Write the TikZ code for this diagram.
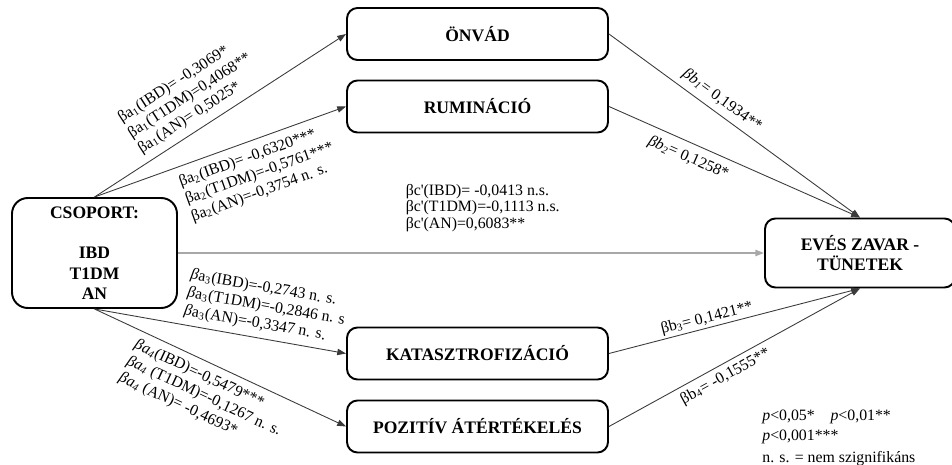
\documentclass[tikz,border=0pt]{standalone}
\usepackage{fontspec}
\setmainfont{Liberation Serif}
\usetikzlibrary{arrows.meta}
\definecolor{pathInk}{HTML}{3A3A3A}
\definecolor{directGray}{HTML}{A8A8A8}

\begin{document}
\begin{tikzpicture}[>={Triangle[length=5pt,width=3.6pt]},
          construct/.style={draw, line width=1.1pt, rounded corners=6pt, minimum width=5.22cm, minimum height=1.04cm,
            align=center, font=\fontsize{10}{11.6}\selectfont\bfseries},
          coef/.style={sloped, align=left, inner sep=0pt, text=black, font=\fontsize{9}{10.4}\selectfont},
          link/.style={->, line width=0.5pt, pathInk}]
        \useasboundingbox (0,0) rectangle (19.04,-9.30);
        \node[construct, minimum width=3.3cm, minimum height=2.2cm, rounded corners=9pt] (cs) at (1.89,-5.06) {CSOPORT:\\[11.6pt]IBD\\T1DM\\AN};
        \node[construct] (onvad) at (9.55,-0.68) {ÖNVÁD};
        \node[construct] (rum) at (9.55,-2.13) {RUMINÁCIÓ};
        \node[construct] (kat) at (9.55,-7.07) {KATASZTROFIZÁCIÓ};
        \node[construct] (poz) at (9.55,-8.53) {POZITÍV ÁTÉRTÉKELÉS};
        \node[construct, minimum width=3.8cm, minimum height=1.38cm] (ev) at (17.2,-5.06) {EVÉS ZAVAR -\\TÜNETEK};
        % a paths
        \draw[link] (cs.north) -- node[coef, pos=0.45, yshift=0.66cm] {βa\textsubscript{1}(IBD)= -0,3069*\\βa\textsubscript{1}(T1DM)=0,4068**\\βa\textsubscript{1}(AN)= 0,5025*} (onvad.west);
        \draw[link] (cs.north) -- node[coef, pos=0.61, yshift=-0.68cm] {βa\textsubscript{2}(IBD)= -0,6320***\\βa\textsubscript{2}(T1DM)=-0,5761***\\βa\textsubscript{2}(AN)=-0,3754 n. s.} (rum.west);
        \draw[link] (cs.south) -- node[coef, pos=0.66, yshift=0.64cm] {\textit{β}a\textsubscript{3}(IBD)=-0,2743 n. s.\\\textit{β}a\textsubscript{3}(T1DM)=-0,2846 n. s\\\textit{β}a\textsubscript{3}(AN)=-0,3347 n. s.} (kat.west);
        \draw[link] (cs.south) -- node[coef, pos=0.49, yshift=-0.66cm] {\textit{βa\textsubscript{4}}(IBD)=-0,5479***\\\textit{βa\textsubscript{4}} (T1DM)=-0,1267 n. s.\\\textit{βa\textsubscript{4}} (AN)= -0,4693*} (poz.west);
        % b paths
        \draw[link] (onvad.east) -- node[coef, pos=0.42, yshift=0.26cm] {\textit{βb\textsubscript{1}}= 0,1934**} (ev.north);
        \draw[link] (rum.east) -- node[coef, pos=0.34, yshift=-0.30cm] {\textit{βb\textsubscript{2}}= 0,1258*} (ev.north);
        \draw[link] (kat.east) -- node[coef, pos=0.40, yshift=0.19cm] {βb\textsubscript{3}= 0,1421**} (ev.south);
        \draw[link] (poz.east) -- node[coef, pos=0.44, yshift=-0.25cm] {βb\textsubscript{4}= -0,1555**} (ev.south);
        % direct path
        \draw[link, directGray, line width=0.9pt] (cs.east) -- node[pos=0.52, yshift=0.9cm, align=left, inner sep=0pt, text=black, font=\fontsize{9}{7.6}\selectfont] {βc\textquotesingle(IBD)= -0,0413 n.s.\\βc\textquotesingle(T1DM)=-0,1113 n.s.\\βc\textquotesingle(AN)=0,6083**} (ev.west);
        \node[anchor=base west, align=left, inner sep=0pt, font=\fontsize{9}{11.3}\selectfont] (sig) at (15.24,-9.26) {\textit{p}<0,05*\quad \textit{p}<0,01**\\\textit{p}<0,001***\\[1.7pt]n. s. = nem szignifikáns};
      \end{tikzpicture}
\end{document}
